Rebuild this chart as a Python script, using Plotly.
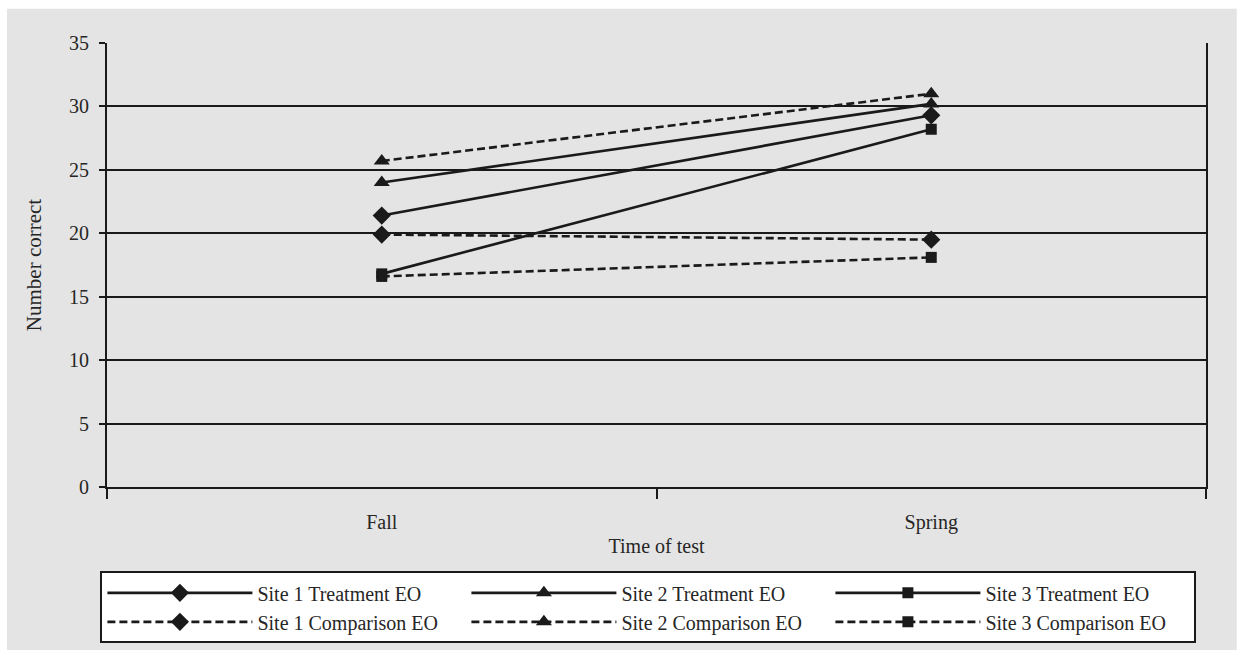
import plotly.graph_objects as go

# Test occasions on the x axis
seasons = ["Fall", "Spring"]

# Mean number correct per group at each occasion
site1_treatment = [21.4, 29.3]
site2_treatment = [24.0, 30.2]
site3_treatment = [16.8, 28.2]
site1_comparison = [19.9, 19.5]
site2_comparison = [25.7, 31.0]
site3_comparison = [16.6, 18.1]

series = [
    ("Site 1 Treatment EO", site1_treatment, "solid", "diamond"),
    ("Site 2 Treatment EO", site2_treatment, "solid", "triangle-up"),
    ("Site 3 Treatment EO", site3_treatment, "solid", "square"),
    ("Site 1 Comparison EO", site1_comparison, "dash", "diamond"),
    ("Site 2 Comparison EO", site2_comparison, "dash", "triangle-up"),
    ("Site 3 Comparison EO", site3_comparison, "dash", "square"),
]
marker_size = {"diamond": 14, "triangle-up": 14, "square": 11}

serif = "Liberation Serif, Times New Roman, serif"
ink = "#1a1a1a"
txt = "#262626"

fig = go.Figure()
for name, vals, dash, symbol in series:
    fig.add_trace(go.Scatter(
        x=seasons, y=vals, name=name, mode="lines+markers",
        line=dict(color=ink, width=2.6, dash="8px,4px" if dash == "dash" else "solid"),
        marker=dict(symbol=symbol, size=marker_size[symbol], color=ink),
    ))

fig.update_layout(
    width=1241, height=651,
    margin=dict(l=107, r=35, t=43, b=164, autoexpand=False),
    paper_bgcolor="white",
    plot_bgcolor="#e4e4e4",
    font=dict(family=serif, size=20, color=txt),
    showlegend=True,
    legend=dict(
        orientation="h", x=-0.006, xanchor="left", y=-0.19, yanchor="top",
        bgcolor="white", bordercolor=ink, borderwidth=2,
        entrywidth=204, entrywidthmode="pixels",
        tracegroupgap=0, itemwidth=145,
        font=dict(family=serif, size=20, color=txt),
    ),
    shapes=[dict(
        type="rect", xref="paper", yref="paper",
        x0=-0.091, x1=1.028, y0=-0.367, y1=1.077,
        fillcolor="#e4e4e4", line=dict(width=0), layer="below",
    )],
)

fig.update_xaxes(
    type="category", range=[-0.5, 1.5],
    tickson="boundaries", ticks="outside", ticklen=10, tickwidth=2, tickcolor=ink,
    ticklabelstandoff=16,
    showline=True, linecolor=ink, linewidth=2, showgrid=False,
    title=dict(text="Time of test", font=dict(family=serif, size=20), standoff=6),
    tickfont=dict(family=serif, size=20),
)
fig.update_yaxes(
    range=[0, 35], dtick=5, tick0=0,
    ticks="outside", ticklen=6, tickwidth=1.5, tickcolor=ink,
    ticklabelstandoff=6,
    showline=True, linecolor=ink, linewidth=2, mirror=True,
    showgrid=True, gridcolor=ink, gridwidth=2, zeroline=False,
    title=dict(text="Number correct", font=dict(family=serif, size=21), standoff=22),
    tickfont=dict(family=serif, size=20),
)

fig.write_html("out.html")
